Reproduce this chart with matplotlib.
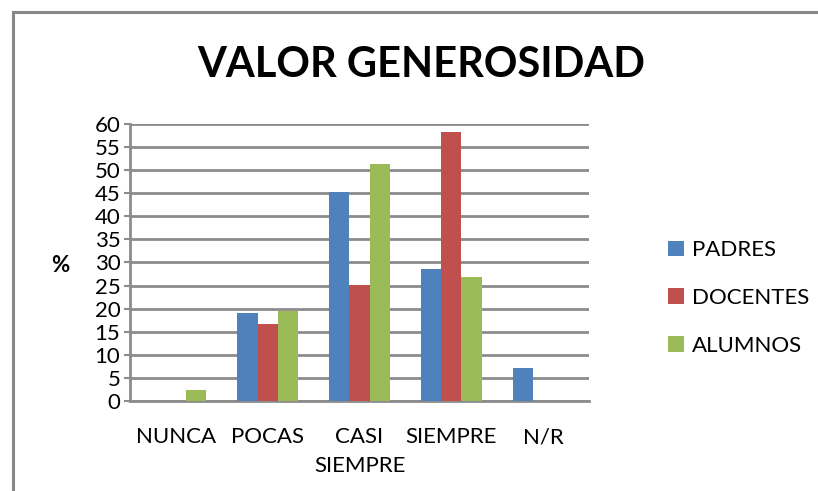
import matplotlib.pyplot as plt
from matplotlib.lines import Line2D
import numpy as np

plt.rcParams['font.family'] = ['Lato', 'DejaVu Sans']

categorias = ['NUNCA', 'POCAS', 'CASI\nSIEMPRE', 'SIEMPRE', 'N/R']
padres = [0, 19.0, 45.3, 28.5, 7.1]
docentes = [0, 16.6, 25.1, 58.3, 0]
alumnos = [2.3, 19.5, 51.3, 26.8, 0]

series = [('PADRES', padres, '#4f81bd'),
          ('DOCENTES', docentes, '#c0504d'),
          ('ALUMNOS', alumnos, '#9bbb59')]

fig = plt.figure(figsize=(8.18, 4.91), dpi=100)
ax = fig.add_axes([0.159, 0.1833, 0.561, 0.5642])

x = np.arange(len(categorias))
w = 0.22
for i, (nome, vals, cor) in enumerate(series):
    ax.bar(x + (i - 1) * w, vals, w, color=cor, label=nome, zorder=3)

ax.set_xlim(-0.5, len(categorias) - 0.5)
ax.set_ylim(0, 60)
ax.set_yticks(range(0, 61, 5))
ax.yaxis.grid(True, color='#8c8c8c', linewidth=2, zorder=0)
ax.set_xticks(x)
ax.set_xticklabels(categorias, fontsize=16, linespacing=1.55)
ax.tick_params(axis='x', length=0, pad=19)
ax.tick_params(axis='y', labelsize=16, length=4, width=1.5, color='#8c8c8c', pad=3)
for s in ['top', 'right']:
    ax.spines[s].set_visible(False)
for s in ['left', 'bottom']:
    ax.spines[s].set_color('#8c8c8c')
    ax.spines[s].set_linewidth(2)

fig.text(0.074, 0.46, '%', fontsize=16, fontweight='bold', ha='center', va='center')
fig.text(0.515, 0.868, 'VALOR GENEROSIDAD', fontsize=30, fontweight='bold',
         ha='center', va='center')

ax.legend(loc='center left', bbox_to_anchor=(0.817, 0.393), bbox_transform=fig.transFigure,
          frameon=False, fontsize=16, handlelength=0.7, handleheight=0.7,
          handletextpad=0.35, labelspacing=1.25, borderpad=0, borderaxespad=0)

# moldura do gráfico
fig.add_artist(Line2D([13 / 818, 13 / 818], [0, 1 - 12 / 491], color='#888888', linewidth=2.2))
fig.add_artist(Line2D([13 / 818, 1], [1 - 12 / 491, 1 - 12 / 491], color='#888888', linewidth=2.2))

fig.savefig('out.png', dpi=100)
